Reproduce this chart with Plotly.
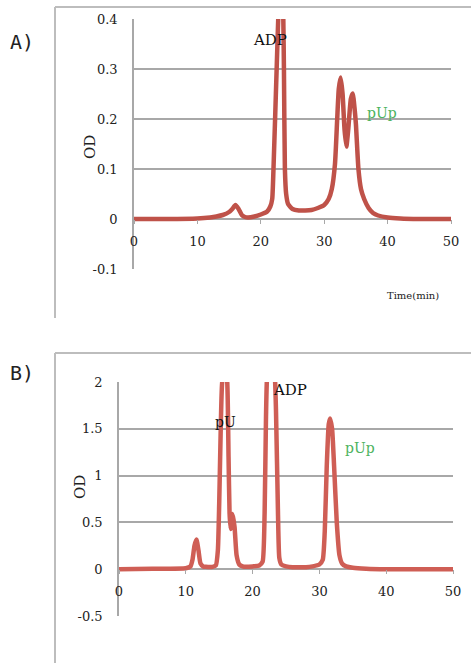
import plotly.graph_objects as go

W, H = 471, 663

# panel A chromatogram
time_a = [0, 5, 10, 12, 13, 14, 15, 15.5, 16, 16.5, 17, 17.5, 18, 19, 20, 21, 21.5, 21.8,
          22.0, 22.5, 22.8, 23.1, 23.3, 23.55, 23.65, 23.8, 24.0, 24.3, 25, 26, 27, 28, 29,
          30, 30.7, 31.2, 31.7, 32.05, 32.3, 32.6, 32.9, 33.2, 33.5, 33.8, 34.2, 34.5, 34.8,
          35.0, 35.4, 35.8, 36.3, 37, 37.7, 38.5, 40, 42, 45, 50]
od_a = [0, 0, 0.001, 0.003, 0.005, 0.008, 0.014, 0.02, 0.028, 0.02, 0.008, 0.004, 0.003,
        0.005, 0.009, 0.015, 0.025, 0.04, 0.1, 0.3, 0.42, 0.5, 0.5, 0.4, 0.3, 0.1, 0.05,
        0.03, 0.02, 0.017, 0.017, 0.018, 0.022, 0.028, 0.04, 0.06, 0.11, 0.2, 0.26, 0.283,
        0.25, 0.18, 0.145, 0.18, 0.24, 0.251, 0.22, 0.19, 0.1, 0.06, 0.04, 0.022, 0.012,
        0.007, 0.003, 0.001, 0, 0]

# panel B chromatogram
time_b = [0, 5, 10, 10.7, 11.0, 11.3, 11.6, 11.9, 12.2, 12.6, 13, 14, 14.5, 14.8, 15.0,
          15.2, 15.45, 15.9, 16.2, 16.4, 16.55, 16.7, 17.0, 17.3, 17.6, 18.0, 18.5, 19, 20,
          21, 21.5, 21.8, 22.0, 22.2, 22.8, 23.3, 23.5, 23.8, 24.0, 24.3, 25, 26, 27, 28,
          29, 30, 30.5, 30.8, 31.1, 31.4, 31.6, 31.9, 32.2, 32.6, 33, 33.4, 34, 35, 37, 40,
          50]
od_b = [0, 0.005, 0.01, 0.03, 0.1, 0.25, 0.316, 0.2, 0.06, 0.03, 0.025, 0.025, 0.04, 0.2,
        0.7, 1.4, 2.0, 2.15, 2.0, 1.2, 0.6, 0.43, 0.59, 0.45, 0.15, 0.05, 0.03, 0.025, 0.03,
        0.04, 0.08, 0.6, 1.6, 2.1, 2.3, 2.1, 1.7, 0.6, 0.12, 0.05, 0.03, 0.02, 0.02, 0.02,
        0.03, 0.05, 0.1, 0.4, 1.1, 1.55, 1.61, 1.5, 1.1, 0.5, 0.15, 0.06, 0.03, 0.015,
        0.005, 0, 0]

x_ticks = [0, 10, 20, 30, 40, 50]
y_ticks_a = [-0.1, 0, 0.1, 0.2, 0.3, 0.4]
y_labels_a = ["-0.1", "0", "0.1", "0.2", "0.3", "0.4"]
y_ticks_b = [-0.5, 0, 0.5, 1, 1.5, 2]
y_labels_b = ["-0.5", "0", "0.5", "1", "1.5", "2"]
range_a = [-0.1, 0.4]
range_b = [-0.5, 2]

dom_x_a = [134 / W, 451 / W]
dom_y_a = [1 - 269 / H, 1 - 19 / H]
dom_x_b = [119 / W, 453 / W]
dom_y_b = [1 - 616 / H, 1 - 382 / H]


def zero_pos(dom, rng):
    return dom[0] + (0 - rng[0]) / (rng[1] - rng[0]) * (dom[1] - dom[0])


serif = "DejaVu Serif"
grid = "#a8a8a8"
tick_font = dict(family=serif, size=13, color="#222222")

fig = go.Figure()
fig.add_trace(go.Scatter(x=time_a, y=od_a, mode="lines", xaxis="x", yaxis="y",
                         line=dict(color="#bf5249", width=4.5, shape="spline", smoothing=0.5),
                         showlegend=False, hoverinfo="skip"))
fig.add_trace(go.Scatter(x=time_b, y=od_b, mode="lines", xaxis="x2", yaxis="y2",
                         line=dict(color="#cf5e55", width=4.5, shape="spline", smoothing=0.5),
                         showlegend=False, hoverinfo="skip"))

xcommon = dict(range=[0, 50], tickvals=x_ticks, showgrid=False, zeroline=False,
               showline=False, ticks="outside", ticklen=4, tickcolor=grid,
               tickfont=tick_font, anchor="free", ticklabelstandoff=6, automargin=False)
ycommon = dict(showgrid=True, gridcolor=grid, gridwidth=1.5, zeroline=False,
               showline=True, linecolor=grid, linewidth=1.5, ticks="",
               tickfont=tick_font, ticklabelstandoff=12, automargin=False)

fig.update_layout(
    width=W, height=H,
    margin=dict(l=0, r=0, t=0, b=0, autoexpand=False),
    paper_bgcolor="white", plot_bgcolor="white",
    xaxis=dict(domain=dom_x_a, position=zero_pos(dom_y_a, range_a), **xcommon),
    yaxis=dict(domain=dom_y_a, range=range_a, tickvals=y_ticks_a, ticktext=y_labels_a,
               anchor="x", **ycommon),
    xaxis2=dict(domain=dom_x_b, position=zero_pos(dom_y_b, range_b), **xcommon),
    yaxis2=dict(domain=dom_y_b, range=range_b, tickvals=y_ticks_b, ticktext=y_labels_b,
                anchor="x2", **ycommon),
)

frame = dict(color="#bdbdbd", width=2)
fig.add_shape(type="line", xref="paper", yref="paper", x0=55 / W, x1=1, y0=1 - 7 / H, y1=1 - 7 / H, line=frame)
fig.add_shape(type="line", xref="paper", yref="paper", x0=55 / W, x1=55 / W, y0=1 - 7 / H, y1=1 - 318 / H, line=frame)
fig.add_shape(type="line", xref="paper", yref="paper", x0=55 / W, x1=1, y0=1 - 353 / H, y1=1 - 353 / H, line=frame)
fig.add_shape(type="line", xref="paper", yref="paper", x0=55 / W, x1=55 / W, y0=1 - 353 / H, y1=0, line=frame)

green = "#4db35e"
dark = "#222222"
notes = [
    ("A)", "paper", "paper", 22 / W, 1 - 42 / H, 0, dict(family="DejaVu Sans Mono", size=20, color=dark)),
    ("B)", "paper", "paper", 22 / W, 1 - 373 / H, 0, dict(family="DejaVu Sans Mono", size=20, color=dark)),
    ("OD", "paper", "paper", 90 / W, 1 - 147 / H, -90, dict(family=serif, size=15, color=dark)),
    ("OD", "paper", "paper", 80 / W, 1 - 487 / H, -90, dict(family=serif, size=15, color=dark)),
    ("Time(min)", "paper", "paper", 413 / W, 1 - 295 / H, 0, dict(family=serif, size=10, color=dark)),
    ("ADP", "x", "y", 21.45, 0.358, 0, dict(family=serif, size=15, color="#111111")),
    ("pUp", "x", "y", 39.1, 0.212, 0, dict(family=serif, size=14, color=green)),
    ("ADP", "x2", "y2", 25.6, 1.915, 0, dict(family=serif, size=15, color="#111111")),
    ("pU", "x2", "y2", 15.9, 1.574, 0, dict(family=serif, size=14, color="#111111")),
    ("pUp", "x2", "y2", 36.1, 1.30, 0, dict(family=serif, size=14, color=green)),
]
for text, xr, yr, x, y, angle, font in notes:
    fig.add_annotation(text=text, xref=xr, yref=yr, x=x, y=y, textangle=angle,
                       xanchor="center", yanchor="middle", showarrow=False, font=font)

fig.write_html("out.html", config={"displayModeBar": False},
               post_script="document.body.style.margin='0';")
